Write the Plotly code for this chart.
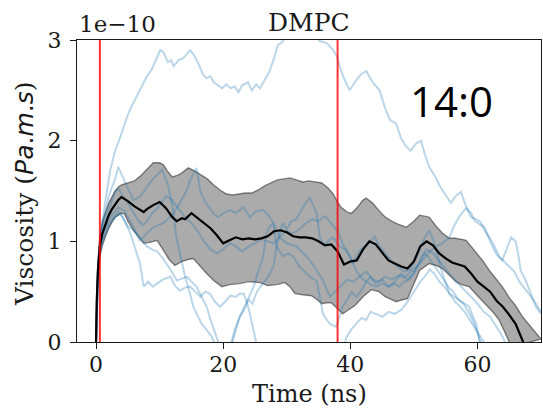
import plotly.graph_objects as go

# ---- data (viscosity in units of 1e-10 Pa.m.s, time in ns) ----
mean_t = [0, 0.1, 0.3, 0.6, 1, 1.5, 2, 2.5, 3, 3.5, 4, 5, 6, 7, 7.5, 8, 9, 10, 11, 12, 12.7, 13.5, 14, 15, 16,
          17, 18, 19, 20, 21, 22, 23, 24, 25, 26, 27, 28, 29, 30, 31, 32, 33, 34, 35, 36, 37, 38, 39, 40, 41,
          42, 43, 44, 45, 46, 47, 48, 49, 50, 51, 52, 53, 54, 55, 56, 57, 58, 59, 60, 61, 62, 63, 64, 65, 66,
          67, 67.5]
mean_v = [0, 0.40, 0.72, 0.95, 1.08, 1.18, 1.26, 1.32, 1.37, 1.41, 1.44, 1.40, 1.35, 1.31, 1.29, 1.32, 1.36, 1.39,
          1.33, 1.24, 1.20, 1.23, 1.22, 1.28, 1.23, 1.18, 1.13, 1.06, 0.98, 1.01, 1.04, 1.02, 1.03, 1.02, 1.03,
          1.05, 1.10, 1.11, 1.09, 1.05, 1.04, 1.04, 1.03, 1.00, 0.96, 0.97, 0.90, 0.77, 0.80, 0.81, 0.92, 1.00,
          0.97, 0.89, 0.81, 0.78, 0.75, 0.73, 0.80, 0.95, 1.00, 0.96, 0.88, 0.83, 0.79, 0.77, 0.75, 0.68, 0.60,
          0.55, 0.50, 0.41, 0.35, 0.27, 0.18, 0.03, -0.05]

upper_t = [0, 0.1, 0.3, 0.6, 1, 1.5, 2, 3, 3.5, 4, 5, 6, 7, 7.5, 8, 9, 10, 10.6, 11.2, 12, 13, 13.5, 14.5,
           15.5, 16.5, 17.5, 18.5, 19.5, 20.5, 21.5, 22.5, 23.5, 24.5, 25.5, 26.5, 27.5, 28.5, 29.5, 30.5,
           31.5, 32.5, 33.5, 34.5, 35.5, 36.5, 37.3, 38, 38.5, 39.5, 40.2, 41, 42, 42.5, 43.5, 44.6, 45.5,
           46.5, 47.5, 48.8, 50, 50.9, 51.7, 52.4, 53.5, 54.5, 55.6, 56.5, 57.5, 58.2, 59, 60, 60.8, 62, 63,
           63.9, 65, 66, 67.1, 68, 69, 69.7, 70]
upper_v = [0, 0.45, 0.80, 1.05, 1.20, 1.30, 1.38, 1.50, 1.54, 1.56, 1.58, 1.60, 1.65, 1.68, 1.72, 1.78, 1.78,
           1.76, 1.70, 1.64, 1.66, 1.68, 1.73, 1.70, 1.66, 1.62, 1.56, 1.51, 1.47, 1.46, 1.47, 1.48, 1.48,
           1.51, 1.55, 1.58, 1.61, 1.62, 1.63, 1.61, 1.59, 1.60, 1.59, 1.58, 1.53, 1.47, 1.39, 1.34, 1.29,
           1.28, 1.33, 1.41, 1.43, 1.38, 1.30, 1.24, 1.20, 1.17, 1.14, 1.20, 1.26, 1.25, 1.24, 1.15, 1.08,
           1.03, 1.03, 1.02, 1.01, 0.95, 0.87, 0.81, 0.70, 0.62, 0.55, 0.44, 0.36, 0.25, 0.18, 0.10, 0.05, 0.03]

lower_t = [0, 0.1, 0.3, 0.6, 1, 1.5, 2, 2.5, 3, 4, 4.5, 5, 6, 7, 7.5, 8.5, 9.6, 10.5, 11.5, 12.4, 13.5, 14.5,
           15.3, 16.5, 17.4, 18.5, 19.8, 21, 22.6, 24, 25.8, 27, 28.4, 29.7, 30.5, 31.3, 32.5, 33.9, 34.8,
           35.5, 36.3, 37, 38, 38.8, 39.5, 40.7, 42, 43.3, 44.5, 45.5, 46.5, 47.2, 48.2, 49, 50, 50.9, 52.4,
           53.5, 54.5, 55.5, 56.6, 57.5, 58.7, 60, 61.3, 62.4, 63.4, 64.3, 65, 65.5]
lower_v = [0, 0.35, 0.64, 0.85, 0.96, 1.05, 1.13, 1.19, 1.24, 1.28, 1.27, 1.20, 1.10, 1.02, 0.98, 0.99, 1.01,
           0.92, 0.82, 0.76, 0.80, 0.82, 0.83, 0.74, 0.68, 0.61, 0.55, 0.57, 0.58, 0.60, 0.59, 0.56, 0.57,
           0.59, 0.55, 0.48, 0.47, 0.46, 0.42, 0.38, 0.39, 0.39, 0.33, 0.28, 0.31, 0.36, 0.45, 0.52, 0.50,
           0.45, 0.42, 0.40, 0.42, 0.43, 0.58, 0.71, 0.78, 0.76, 0.73, 0.67, 0.60, 0.57, 0.55, 0.46, 0.37,
           0.30, 0.22, 0.10, 0.0, -0.05]

# individual replicas
run_a_t = [0, 0.3, 0.6, 1, 1.5, 2.2, 3, 3.5, 4.2, 4.9, 5.5, 6.2, 7, 8, 8.7, 9.5, 10.1, 10.6, 11.3, 11.8, 12.2,
           13, 13.7, 14.3, 14.8, 15.4, 16, 16.8, 17.4, 18, 18.5, 19.2, 19.8, 20.5, 21.2, 21.8, 22.4, 23, 23.9,
           24.5, 25.2, 25.8, 26.5, 27.3, 28, 28.6, 29.3, 30, 31, 32, 33.1, 34, 35.2, 36.3, 37.3, 38, 38.3, 39,
           39.9, 40.4, 40.9, 41.7, 42.5, 43.5, 44.6, 45.5, 46.2, 47.2, 48, 48.8, 49.5, 50.3, 51.1, 51.8, 52.4,
           53.2, 54, 54.8, 55.8, 56.6, 57.4, 58.2, 59, 59.8, 60.5, 61.2, 61.9, 62.7, 63.4, 64.2, 65, 65.8,
           66.6, 67.5, 68.3, 69, 69.7, 70]
run_a_v = [0, 0.75, 1.0, 1.2, 1.42, 1.70, 1.90, 1.98, 2.12, 2.24, 2.33, 2.42, 2.52, 2.64, 2.70, 2.82, 2.90, 2.88,
           2.78, 2.80, 2.74, 2.80, 2.82, 2.86, 2.90, 2.85, 2.78, 2.66, 2.62, 2.64, 2.58, 2.55, 2.52, 2.56, 2.52,
           2.54, 2.48, 2.55, 2.58, 2.50, 2.56, 2.52, 2.60, 2.69, 2.82, 2.95, 2.98, 3.05, 3.08, 3.04, 3.03, 3.06,
           2.99, 2.97, 2.90, 2.82, 2.74, 2.62, 2.50, 2.55, 2.60, 2.66, 2.69, 2.58, 2.50, 2.32, 2.21, 2.17, 2.02,
           1.94, 1.90, 1.97, 2.00, 1.85, 1.74, 1.66, 1.56, 1.48, 1.38, 1.45, 1.49, 1.35, 1.24, 1.22, 1.19, 1.10,
           1.04, 0.95, 0.85, 0.80, 0.75, 0.70, 0.60, 0.52, 0.46, 0.40, 0.32, 0.30]

run_b_t = [0, 0.3, 0.6, 1, 2, 3, 3.5, 4.5, 5.4, 6.9, 8, 9, 10.6, 12.2, 13.2, 14.3, 14.8, 15.8, 16.4, 17, 18.4,
           19.2, 20, 21.1, 22, 23.2, 24.2, 25.2, 26.3, 27.2, 27.9, 28.9, 30, 31.5, 32.3, 33.1, 34, 34.7, 35.7,
           36.8, 37.8, 38.5, 39.5, 40.5, 41.5, 42.5, 43.5, 44.5, 45.5, 46.5, 47.5, 48.5, 49.5, 50.5, 51.5,
           52.5, 53.5, 54.5, 55.6, 56.3, 57.1, 58.2, 59, 59.5, 60.3, 61.1, 62, 62.9, 63.9, 64.6, 65.3, 66,
           66.4, 66.8, 67.6, 68.4, 69.2, 70]
run_b_v = [0, 0.70, 0.92, 1.08, 1.22, 1.30, 1.34, 1.30, 1.20, 1.01, 1.08, 1.14, 1.18, 1.28, 1.38, 1.51, 1.61,
           1.73, 1.50, 1.41, 1.28, 1.24, 1.28, 1.31, 1.28, 1.34, 1.24, 1.30, 1.31, 1.25, 1.18, 1.04, 0.98,
           0.95, 0.90, 0.85, 0.78, 0.71, 0.61, 0.45, 0.51, 0.55, 0.62, 0.60, 0.65, 0.70, 0.62, 0.60, 0.65,
           0.62, 0.66, 0.64, 0.70, 0.75, 0.82, 0.90, 0.95, 0.98, 1.04, 1.15, 1.24, 1.33, 1.28, 1.21, 1.17,
           1.14, 1.00, 0.88, 0.81, 0.92, 1.04, 1.00, 0.88, 0.71, 0.61, 0.48, 0.35, 0.28]

run_c_t = [0, 0.3, 0.6, 1, 2, 3, 3.5, 4.6, 5.9, 6.9, 8.8, 10.4, 11.4, 12.2, 12.6, 13.3, 14, 14.7, 15.3, 16,
           16.6, 17.4, 18.2, 18.7, 19.5, 20.5, 21.3, 21.8, 22.6, 23.3, 24, 24.6, 25.3, 26.3, 27.2, 27.9, 28.4,
           29, 29.4, 30, 30.7, 31.5, 32, 32.8, 33.6, 34.2, 34.7, 35.2, 35.7, 36.2, 36.8, 37.3, 38.3, 39.4,
           40.4, 41.5, 42.2, 43, 43.8, 44.5, 45.5, 46.5, 47.5, 48.5, 49.5, 50.5, 51.4, 52.4, 53, 53.5, 54.5,
           55.6, 56.3, 57.1, 58, 58.7, 59.3, 59.8, 60.3, 60.8]
run_c_v = [0, 0.72, 0.98, 1.15, 1.45, 1.62, 1.74, 1.58, 1.41, 1.44, 1.61, 1.71, 1.54, 1.28, 1.05, 0.85, 0.65,
           0.50, 0.35, 0.26, 0.18, 0.12, 0.05, -0.02, -0.20, -0.20, -0.02, 0.12, 0.25, 0.32, 0.42, 0.38, 0.50,
           0.58, 0.66, 0.75, 0.95, 1.10, 1.18, 1.12, 1.20, 1.22, 1.28, 1.36, 1.44, 1.36, 1.28, 1.04, 0.98,
           0.98, 1.02, 1.04, 0.95, 0.91, 0.78, 0.91, 0.95, 0.98, 1.05, 0.96, 0.88, 0.80, 0.74, 0.70, 0.72,
           0.85, 1.00, 1.11, 1.02, 0.91, 0.68, 0.48, 0.45, 0.41, 0.38, 0.35, 0.25, 0.18, 0.02, -0.10]

run_d_t = [0, 0.3, 0.6, 1, 2, 3, 3.8, 4.5, 5.4, 6.2, 6.9, 7.5, 8.2, 8.9, 9.6, 10.5, 11.7, 12.4, 13.2, 14, 14.8,
           15.6, 16.4, 17.2, 17.9, 18.7, 19.5, 20.3, 21.1, 22, 22.6, 23.2, 23.7, 24.2, 24.6, 25, 25.5, 38.8,
           39.4, 40.1, 40.9, 41.8, 42.5, 43.2, 44, 45.1, 46, 47, 48, 48.8, 49.5, 50.2, 51, 51.7, 52.5, 53.2,
           54, 54.8, 55.6, 56.5, 57.3, 58, 58.8, 59.5, 60.2, 61, 61.5]
run_d_v = [0, 0.65, 0.88, 1.00, 1.15, 1.24, 1.28, 1.20, 1.08, 0.92, 0.78, 0.55, 0.60, 0.55, 0.58, 0.62, 0.65,
           0.56, 0.51, 0.54, 0.55, 0.50, 0.45, 0.50, 0.48, 0.40, 0.35, 0.40, 0.46, 0.45, 0.48, 0.48, 0.40,
           0.28, 0.15, 0.05, -0.10, -0.10, 0.05, 0.12, 0.18, 0.24, 0.22, 0.30, 0.28, 0.25, 0.30, 0.28, 0.32,
           0.38, 0.45, 0.52, 0.60, 0.65, 0.72, 0.68, 0.60, 0.55, 0.48, 0.40, 0.35, 0.30, 0.22, 0.15, 0.08,
           0.0, -0.10]

run_e_t = [0, 0.3, 0.6, 1, 2, 3, 3.5, 4.2, 5, 5.9, 7, 8, 8.8, 9.6, 10.4, 11.1, 11.9, 12.7, 13.5, 14.3, 15,
           15.8, 16.6, 17.4, 18, 18.4, 19.2, 19.8, 21, 21.5, 22, 22.6, 23.3, 24, 24.8, 25.5, 26.3, 26.8, 27.4,
           27.9, 28.4, 29.4, 30.2, 31, 32, 33.1, 34, 34.7, 35.2, 35.7, 36.3, 36.8, 37.8, 38.3, 38.8, 39.5,
           40.2, 41, 41.8, 42.5, 43.2, 44, 45, 46, 47, 47.7, 48.5, 49.3, 50, 50.8, 51.5, 52.2, 53, 53.8, 54.6,
           55.4, 56.2, 57, 57.8, 58.6, 59.4, 60, 60.5, 61]
run_e_v = [0, 0.68, 0.90, 1.02, 1.18, 1.26, 1.29, 1.24, 1.15, 1.11, 1.02, 0.95, 0.92, 0.90, 0.84, 0.78, 0.70,
           0.61, 0.63, 0.65, 0.60, 0.55, 0.45, 0.35, 0.22, 0.15, 0.0, -0.10, -0.10, 0.0, 0.12, 0.25, 0.35,
           0.45, 0.55, 0.70, 0.85, 1.08, 1.15, 1.18, 0.95, 0.85, 0.88, 0.85, 0.75, 0.68, 0.63, 0.61, 0.45,
           0.28, 0.22, 0.18, 0.15, 0.25, 0.35, 0.42, 0.50, 0.45, 0.52, 0.60, 0.65, 0.58, 0.62, 0.55, 0.58,
           0.55, 0.60, 0.62, 0.70, 0.78, 0.88, 0.85, 0.78, 0.70, 0.62, 0.55, 0.50, 0.42, 0.38, 0.30, 0.20,
           0.10, 0.0, -0.10]

run_f_t = [0, 0.3, 0.6, 1, 1.5, 2, 2.5, 3, 3.6, 4.2, 5, 5.8, 6.5, 7.3, 8, 8.8, 9.5, 10.3, 11, 11.8, 12.5,
           13.3, 14, 15, 16, 17, 18, 19, 20, 21, 22, 23, 24, 25, 26, 27, 28, 29, 30, 31, 32, 33, 34, 35, 36,
           37, 38, 39, 40, 41, 42, 43, 44, 45, 46, 47, 48, 49, 50, 51, 52, 53, 54, 55, 56, 57, 58, 59, 60,
           61, 62, 63, 64, 64.6]
run_f_v = [0, 0.72, 0.95, 1.10, 1.22, 1.32, 1.42, 1.50, 1.52, 1.45, 1.38, 1.30, 1.22, 1.16, 1.20, 1.28, 1.32,
           1.38, 1.45, 1.42, 1.36, 1.30, 1.24, 1.18, 1.10, 1.00, 0.92, 0.88, 0.92, 0.98, 0.95, 0.90, 0.95,
           0.98, 1.02, 1.00, 0.98, 1.05, 1.10, 1.08, 1.12, 1.18, 1.22, 1.20, 1.25, 1.18, 1.10, 0.95, 0.85,
           0.70, 0.62, 0.58, 0.55, 0.58, 0.55, 0.60, 0.68, 0.62, 0.68, 0.80, 0.92, 0.88, 0.80, 0.72, 0.65,
           0.58, 0.52, 0.45, 0.38, 0.30, 0.25, 0.15, 0.05, -0.05]

runs = [(run_a_t, run_a_v), (run_b_t, run_b_v), (run_c_t, run_c_v),
        (run_d_t, run_d_v), (run_e_t, run_e_v), (run_f_t, run_f_v)]

marker_times = [0.6, 38.0]          # vertical reference lines (ns)
x_ticks = [0, 20, 40, 60]
y_ticks = [0, 1, 2, 3]
scale_label = "1e\u221210"
title_text = "DMPC"
tag_text = "14:0"

# ---- figure ----
SERIF = "DejaVu Serif"
INK = "#1a1a1a"
fig = go.Figure()

# shaded spread (polygon: upper edge forward, lower edge back)
fig.add_trace(go.Scatter(
    x=upper_t + lower_t[::-1], y=upper_v + lower_v[::-1],
    fill="toself", fillcolor="rgba(0,0,0,0.33)",
    line=dict(color="rgba(0,0,0,0.45)", width=1.4),
    mode="lines", hoverinfo="skip", showlegend=False))

for t, v in runs:
    fig.add_trace(go.Scatter(x=t, y=v, mode="lines",
                             line=dict(color="rgba(31,119,180,0.3)", width=2),
                             showlegend=False))

for xm in marker_times:
    fig.add_shape(type="line", xref="x", yref="paper", x0=xm, x1=xm, y0=0, y1=1,
                  line=dict(color="rgba(255,0,0,0.8)", width=2), layer="above")

fig.add_trace(go.Scatter(x=mean_t, y=mean_v, mode="lines",
                         line=dict(color="black", width=2.2), showlegend=False))

axis_common = dict(showline=True, mirror=True, linecolor=INK, linewidth=1.2,
                   ticks="outside", ticklen=6, tickwidth=1.2, tickcolor=INK,
                   showgrid=False, zeroline=False,
                   tickfont=dict(family=SERIF, size=22, color=INK))

fig.update_layout(
    width=543, height=408,
    margin=dict(l=77, r=2, t=40, b=66),
    paper_bgcolor="white", plot_bgcolor="white",
    xaxis=dict(range=[-3, 70], tickvals=x_ticks, ticklabelstandoff=-4, **axis_common),
    yaxis=dict(range=[0, 3], tickvals=y_ticks, ticklabelstandoff=4, **axis_common),
    annotations=[
        dict(text=title_text, xref="paper", yref="paper", x=0.5, y=1, yshift=1,
             xanchor="center", yanchor="bottom", showarrow=False,
             font=dict(family=SERIF, size=25, color=INK)),
        dict(text=scale_label, xref="paper", yref="paper", x=0, y=1, yshift=1,
             xanchor="left", yanchor="bottom", showarrow=False,
             font=dict(family=SERIF, size=23, color=INK)),
        dict(text="Time (ns)", xref="paper", yref="paper", x=0.5, y=0, yshift=-36,
             xanchor="center", yanchor="top", showarrow=False,
             font=dict(family=SERIF, size=24, color=INK)),
        dict(text="Viscosity (<span style='font-family:DejaVu Sans'><i>Pa</i>.<i>m</i>.<i>s</i></span>)",
             xref="paper", yref="paper", x=-0.114, y=0.49, textangle=-90,
             xanchor="center", yanchor="middle", showarrow=False,
             font=dict(family=SERIF, size=25, color=INK)),
        dict(text=tag_text, xref="x", yref="y", x=55.9, y=2.40,
             xanchor="center", yanchor="middle", showarrow=False,
             font=dict(family="Open Sans", size=42, color="black")),
    ],
)

fig.write_html("out.html")
